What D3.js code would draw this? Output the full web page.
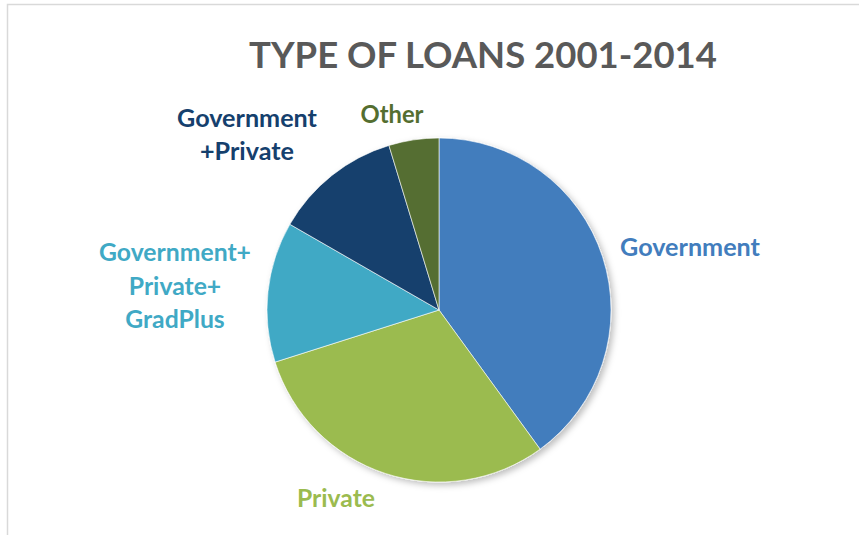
<!DOCTYPE html>
<html>
<head>
<meta charset="utf-8">
<script src="https://cdn.jsdelivr.net/npm/d3@7"></script>
<style>
  html, body { margin: 0; padding: 0; background: #fff; }
  svg { display: block; }
  text { font-family: Lato, "Open Sans", sans-serif; font-weight: 700; }
</style>
</head>
<body>
<svg id="chart" width="859" height="535"></svg>
<script>
// Loan types, in clockwise order from 12 o'clock
const categories = ["Government", "Private", "Government+Private+GradPlus", "Government+Private", "Other"];
const shares = [40.0, 30.1, 13.2, 12.0, 4.7];
const colors = ["#427dbd", "#9bbb4f", "#40a9c5", "#15406d", "#546e30"];
// Label text lines for each slice
const labelLines = [
  ["Government"],
  ["Private"],
  ["Government+", "Private+", "GradPlus"],
  ["Government", "+Private"],
  ["Other"]
];
const titleText = "TYPE OF LOANS 2001-2014";

const svg = d3.select("#chart");
const W = 859, H = 535;

// chart frame
svg.append("rect")
  .attr("x", 7.5).attr("y", 4.5)
  .attr("width", W).attr("height", H)
  .attr("fill", "#fff").attr("stroke", "#d9d9d9").attr("stroke-width", 1.5);

// soft shadow under the pie
const defs = svg.append("defs");
const f = defs.append("filter").attr("id", "shadow")
  .attr("x", "-10%").attr("y", "-10%").attr("width", "120%").attr("height", "120%");
f.append("feDropShadow").attr("dx", 3).attr("dy", 3).attr("stdDeviation", 3)
  .attr("flood-color", "#000").attr("flood-opacity", 0.25);

// title
const title = svg.append("text")
  .attr("x", 483).attr("y", 68)
  .attr("text-anchor", "middle")
  .attr("fill", "#595959")
  .attr("font-size", 40)
  .text(titleText);

function fitWidth(sel, target) {
  const w = sel.node().getComputedTextLength();
  const fs = +sel.attr("font-size");
  sel.attr("font-size", fs * target / w);
}
fitWidth(title, 468);

const cx = 439, cy = 310, r = 172;
const pie = d3.pie().sort(null).value(d => d)(shares);
const arc = d3.arc().innerRadius(0).outerRadius(r);

const g = svg.append("g").attr("transform", `translate(${cx},${cy})`);
g.append("g").attr("filter", "url(#shadow)")
  .selectAll("path")
  .data(pie)
  .join("path")
  .attr("d", arc)
  .attr("fill", (d, i) => colors[i])
  .attr("stroke", "#fff")
  .attr("stroke-width", 0.6);

// label anchors (center x, first baseline, line step, font size)
const labelPos = [
  { x: 690, y: 256, step: 0, fs: 22, w: 140 },
  { x: 336, y: 507, step: 0, fs: 22, w: 78 },
  { x: 175, y: 261, step: 33.5, fs: 22, w: 152 },
  { x: 247, y: 127, step: 33, fs: 22, w: 140 },
  { x: 392, y: 123, step: 0, fs: 22, w: 63 }
];

categories.forEach((c, i) => {
  const p = labelPos[i];
  const t = svg.append("text")
    .attr("x", p.x).attr("y", p.y)
    .attr("text-anchor", "middle")
    .attr("fill", colors[i])
    .attr("font-size", p.fs);
  labelLines[i].forEach((ln, j) => {
    t.append("tspan").attr("x", p.x).attr("y", p.y + j * p.step).text(ln);
  });
  // size by the widest line
  const widest = d3.max(t.selectAll("tspan").nodes(), n => n.getComputedTextLength());
  t.attr("font-size", p.fs * p.w / widest);
});
</script>
</body>
</html>
